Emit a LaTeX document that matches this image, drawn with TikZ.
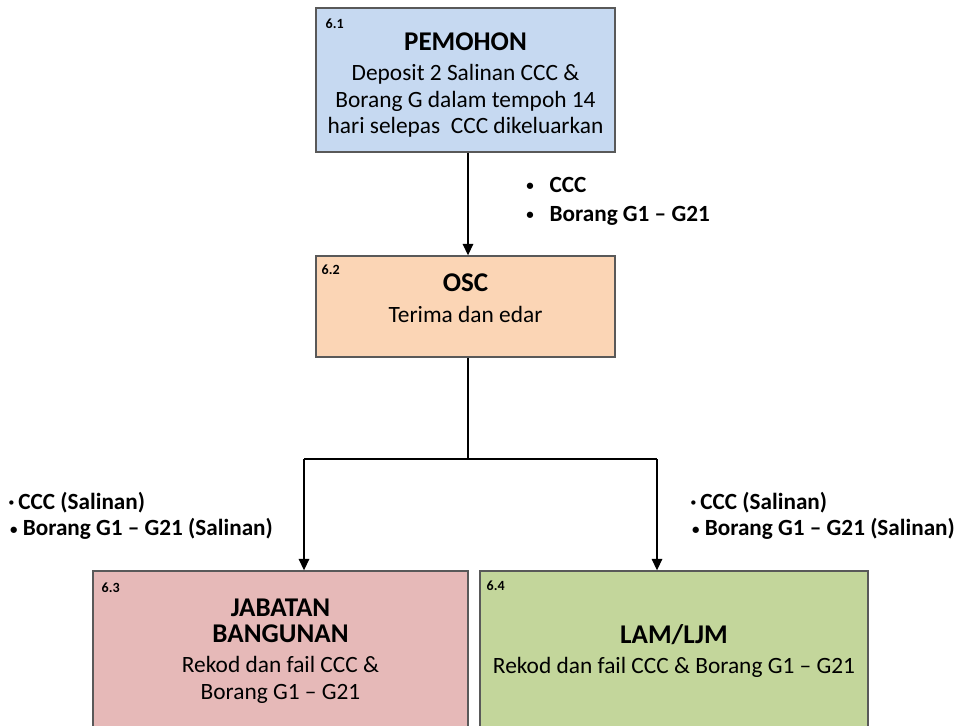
\documentclass[tikz,border=0pt]{standalone}
\usepackage{fontspec}
\setmainfont{Carlito}
\usetikzlibrary{arrows.meta}
\definecolor{boxblue}{HTML}{C6D9F1}
\definecolor{boxpeach}{HTML}{FBD5B5}
\definecolor{boxpink}{HTML}{E6B9B8}
\definecolor{boxgreen}{HTML}{C3D69B}
\definecolor{boxline}{HTML}{595959}
\newcommand{\stagetitle}[1]{{\fontsize{15.4}{14.2}\selectfont\bfseries #1}}
\newcommand{\smallbullet}{\raisebox{0.9pt}{\fontsize{8.5}{8.5}\selectfont\textbullet}}
\begin{document}
\begin{tikzpicture}[x=0.02cm,y=-0.02cm,
    stagebox/.style={draw=boxline,line width=0.8pt,rectangle,inner sep=0pt,
        align=center,font=\fontsize{13.3}{15.1}\selectfont},
    stageno/.style={anchor=north west,inner sep=0pt,font=\fontsize{8}{9}\selectfont\bfseries},
    doclist/.style={anchor=west,inner sep=0pt,align=left,font=\fontsize{13.2}{14.8}\selectfont\bfseries},
    flow/.style={-{Triangle[length=6.5pt,width=6pt]},line width=0.7pt}]
                    \clip (0,0) rectangle (959,726);
                    \node[stagebox,fill=boxblue,minimum width=299*0.02cm,minimum height=144*0.02cm] (pemohon) at (465.5,80)
                        {\stagetitle{\rule{0pt}{16pt}PEMOHON}\\[2pt]Deposit 2 Salinan CCC \&\\Borang G dalam tempoh 14\\hari selepas\ \ CCC dikeluarkan};
                    \node[stagebox,fill=boxpeach,minimum width=299*0.02cm,minimum height=101*0.02cm] (osc) at (465.5,306.5)
                        {\stagetitle{OSC}\\[2.5pt]Terima dan edar\\[-6pt]\mbox{}};
                    \node[stagebox,fill=boxpink,minimum width=375*0.02cm,minimum height=160*0.02cm] (jabatan) at (280.5,651)
                        {\stagetitle{JABATAN}\\\stagetitle{BANGUNAN}\\[2pt]Rekod dan fail CCC \&\\Borang G1 -- G21};
                    \node[stagebox,fill=boxgreen,minimum width=388*0.02cm,minimum height=160*0.02cm] (lam) at (674,651)
                        {\stagetitle{LAM/LJM}\\[2pt]Rekod dan fail CCC \& Borang G1 -- G21};
                    \node[stageno] at ([shift={(10,11)}]pemohon.north west) {6.1};
                    \node[stageno] at ([shift={(6,9)}]osc.north west) {6.2};
                    \node[stageno] at ([shift={(9,12)}]jabatan.north west) {6.3};
                    \node[stageno] at ([shift={(7,10)}]lam.north west) {6.4};
                    \node[doclist,font=\fontsize{13.2}{16.4}\selectfont\bfseries] (docsosc) at (526,201)
                        {\smallbullet\hspace{9pt}CCC\\\smallbullet\hspace{9pt}Borang G1 -- G21};
                    \node[doclist] (docsjab) at (8,516)
                        {\textperiodcentered\,CCC (Salinan)\\\hspace{1pt}\smallbullet\ Borang G1 -- G21 (Salinan)};
                    \node[doclist] (docslam) at (690,516)
                        {\textperiodcentered\,CCC (Salinan)\\\hspace{1pt}\smallbullet\ Borang G1 -- G21 (Salinan)};
                    \coordinate (split) at (468,459);
                    \coordinate (lsplit) at (304,459);
                    \coordinate (rsplit) at (657,459);
                    \draw[flow] (pemohon.south -| split) -- (osc.north -| split);
                    \draw[line width=0.7pt] (osc.south -| split) -- (split);
                    \draw[line width=0.7pt] (lsplit) -- (rsplit);
                    \draw[flow] (lsplit) -- (lsplit |- jabatan.north);
                    \draw[flow] (rsplit) -- (rsplit |- lam.north);
\end{tikzpicture}
\end{document}
